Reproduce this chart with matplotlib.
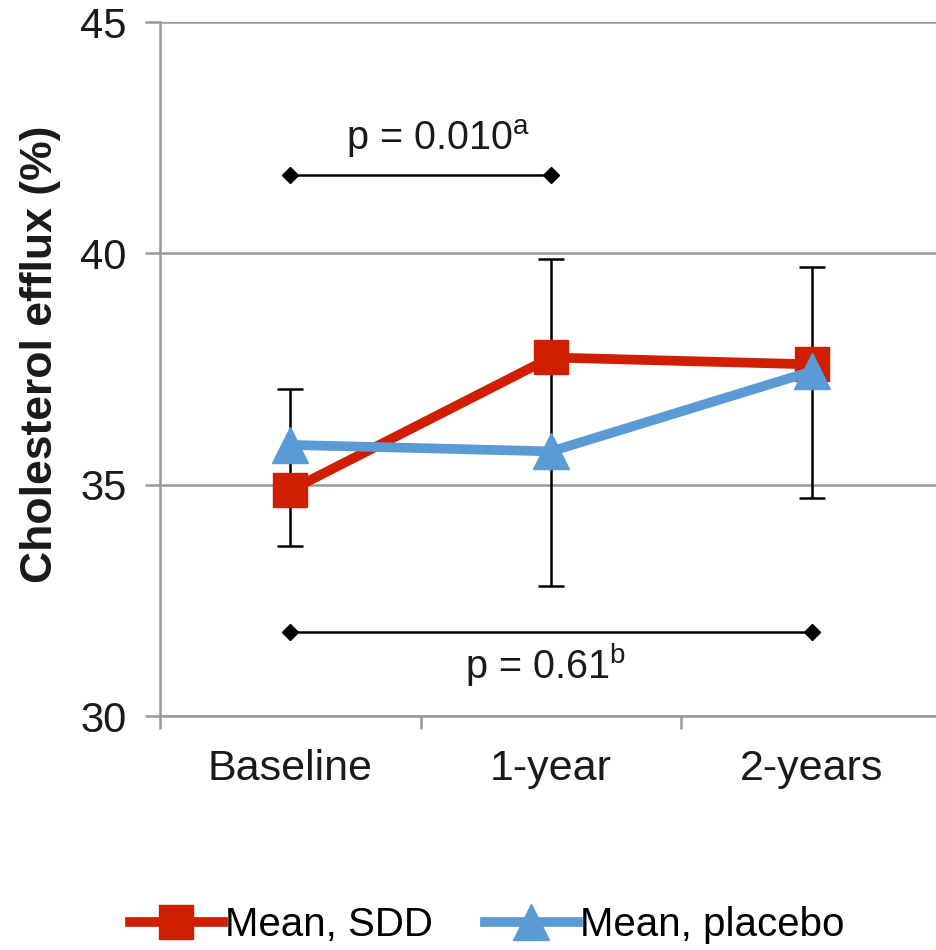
import matplotlib
matplotlib.use("Agg")
import matplotlib.pyplot as plt
import numpy as np

plt.rcParams['font.family'] = ['Liberation Sans', 'DejaVu Sans']
plt.rcParams['mathtext.fontset'] = 'custom'
plt.rcParams['mathtext.rm'] = 'Liberation Sans'

# ---------------------------------------------------
# Data
# ---------------------------------------------------
timepoints = ['Baseline', '1-year', '2-years']
mean_sdd = [34.88, 37.75, 37.6]
mean_placebo = [35.86, 35.72, 37.45]
whisker_top = [37.07, 39.87, 39.7]
whisker_bottom = [33.67, 32.8, 34.72]

top_pair = (0, 1)
top_p_y = 41.69
top_label = 'p = 0.010$^{\\mathrm{a}}$'
bottom_pair = (0, 2)
bottom_p_y = 31.82
bottom_label = 'p = 0.61$^{\\mathrm{b}}$'

red = '#D01E00'
blue = '#5B9BD5'
grey = '#9A9A9A'
text_col = '#1a1a1a'

fig = plt.figure(figsize=(9.37, 9.5), dpi=100)
ax = fig.add_axes([0.1708, 0.2463, 0.8292, 0.7305])

x = np.arange(len(timepoints))
mid = np.array(mean_sdd)
yerr = [mid - np.array(whisker_bottom), np.array(whisker_top) - mid]

# error bars behind the lines
ax.errorbar(x, mid, yerr=yerr, fmt='none', ecolor='black', elinewidth=1.8,
            capsize=9.5, capthick=1.8, zorder=2)

ax.plot(x, mean_sdd, color=red, lw=7, marker='s', ms=24.5,
        label='Mean, SDD', zorder=3)
ax.plot(x, mean_placebo, color=blue, lw=7, marker='^', ms=26,
        label='Mean, placebo', zorder=4)

# p-value brackets
ax.plot(top_pair, [top_p_y, top_p_y], color='black', lw=1.8, marker='D',
        ms=8, zorder=2)
ax.text(0.567, 42.23, top_label, ha='center', va='baseline', fontsize=28.5,
        color=text_col)
ax.plot(bottom_pair, [bottom_p_y, bottom_p_y], color='black', lw=1.8,
        marker='D', ms=8, zorder=2)
ax.text(0.98, 30.8, bottom_label, ha='center', va='baseline', fontsize=28.5,
        color=text_col)

ax.set_xlim(-0.5, 2.48)
ax.set_ylim(30, 45)
ax.set_yticks([30, 35, 40, 45])
ax.yaxis.grid(True, color=grey, lw=1.8)
ax.set_axisbelow(True)

for s in ['top', 'right']:
    ax.spines[s].set_visible(False)
for s in ['left', 'bottom']:
    ax.spines[s].set_color(grey)
    ax.spines[s].set_linewidth(1.8)

# category ticks between groups, labels at centres
ax.set_xticks([-0.5, 0.5, 1.5])
ax.set_xticklabels([])
ax.set_xticks(x, minor=True)
ax.set_xticklabels(timepoints, minor=True)
ax.tick_params(axis='x', which='major', length=9, width=1.8, color=grey)
ax.tick_params(axis='x', which='minor', length=0, pad=24, labelsize=31,
               labelcolor=text_col)
ax.tick_params(axis='y', length=11, width=1.8, color=grey, pad=13,
               labelsize=30, labelcolor=text_col)

ax.set_ylabel('Cholesterol efflux (%)', fontsize=32, fontweight='bold',
              color=text_col)
ax.yaxis.set_label_coords(-0.128, 0.522)

fig.legend(loc='center left', bbox_to_anchor=(130 / 937, 1 - 925 / 950),
           ncol=2, frameon=False, fontsize=29, handlelength=2.3,
           handletextpad=0.05, columnspacing=1.3, borderpad=0,
           borderaxespad=0)

fig.savefig('out.png', dpi=100)
